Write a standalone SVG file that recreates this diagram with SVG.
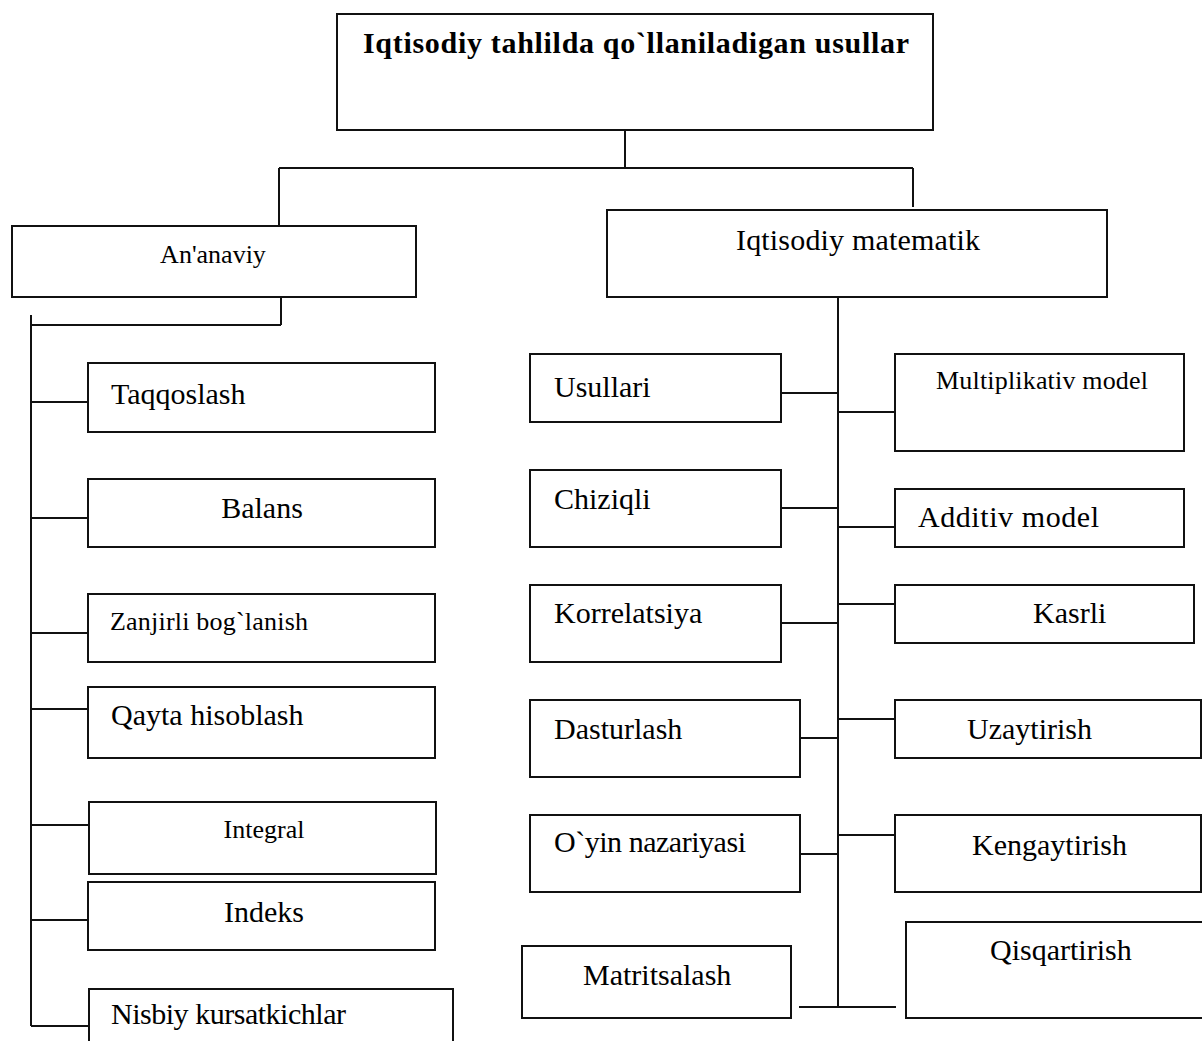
<svg xmlns="http://www.w3.org/2000/svg" width="1202" height="1041" viewBox="0 0 1202 1041">
<style>
.box{fill:#fff;stroke:#111;stroke-width:2}
.ln{fill:none;stroke:#111;stroke-width:2}
text{font-family:"Liberation Serif","Times New Roman",serif;fill:#000}
.t{font-size:30px}
.s{font-size:26px}
.c{text-anchor:middle}
.b{font-weight:bold}
</style>
<rect width="1202" height="1041" fill="#fff"/>
<g id="connectors">
<path class="ln" d="M625,130 V168 M279,168 H913 M279,168 V226 M913,168 V207"/>
<path class="ln" d="M281,287 V325 M31,325 H281 M31,315 V1026"/>
<path class="ln" d="M31,402 H88 M31,518 H88 M31,633 H88 M31,709 H88 M31,825 H89 M31,920 H88 M31,1026 H89"/>
<path class="ln" d="M838,297 V1007"/>
<path class="ln" d="M781,393 H838 M838,412 H895 M781,508 H838 M838,527 H895 M781,623 H838 M838,604 H895 M800,738 H838 M838,719 H895 M800,854 H838 M838,835 H895 M799,1007 H896"/>
</g>
<g id="root"><rect class="box" x="337" y="14" width="596" height="116"/><text class="t b" x="363" y="53" textLength="546" lengthAdjust="spacing">Iqtisodiy tahlilda qo`llaniladigan usullar</text></g>
<g id="ananaviy"><rect class="box" x="12" y="226" width="404" height="71"/><text class="s c" x="213" y="263">An'anaviy</text></g>
<g id="iqtisodiy-matematik"><rect class="box" x="607" y="210" width="500" height="87"/><text class="t" x="736" y="250" textLength="244" lengthAdjust="spacing">Iqtisodiy matematik</text></g>
<g id="taqqoslash"><rect class="box" x="88" y="363" width="347" height="69"/><text class="t" x="111" y="404">Taqqoslash</text></g>
<g id="balans"><rect class="box" x="88" y="479" width="347" height="68"/><text class="t c" x="262" y="518">Balans</text></g>
<g id="zanjirli"><rect class="box" x="88" y="594" width="347" height="68"/><text class="s" x="110" y="630" textLength="198" lengthAdjust="spacing">Zanjirli bog`lanish</text></g>
<g id="qayta"><rect class="box" x="88" y="687" width="347" height="71"/><text class="t" x="111" y="725">Qayta hisoblash</text></g>
<g id="integral"><rect class="box" x="89" y="802" width="347" height="72"/><text class="s c" x="264" y="838">Integral</text></g>
<g id="indeks"><rect class="box" x="88" y="882" width="347" height="68"/><text class="t c" x="264" y="922">Indeks</text></g>
<g id="nisbiy"><rect class="box" x="89" y="989" width="364" height="70"/><text class="t" x="111" y="1024" textLength="235" lengthAdjust="spacing">Nisbiy kursatkichlar</text></g>
<g id="usullari"><rect class="box" x="530" y="354" width="251" height="68"/><text class="t" x="554" y="397">Usullari</text></g>
<g id="multiplikativ"><rect class="box" x="895" y="354" width="289" height="97"/><text class="s" x="936" y="389" textLength="212" lengthAdjust="spacing">Multiplikativ model</text></g>
<g id="chiziqli"><rect class="box" x="530" y="470" width="251" height="77"/><text class="t" x="554" y="509">Chiziqli</text></g>
<g id="additiv"><rect class="box" x="895" y="489" width="289" height="58"/><text class="t" x="918" y="527" textLength="181" lengthAdjust="spacing">Additiv model</text></g>
<g id="korrelatsiya"><rect class="box" x="530" y="585" width="251" height="77"/><text class="t" x="554" y="623">Korrelatsiya</text></g>
<g id="kasrli"><rect class="box" x="895" y="585" width="299" height="58"/><text class="t" x="1033" y="623">Kasrli</text></g>
<g id="dasturlash"><rect class="box" x="530" y="700" width="270" height="77"/><text class="t" x="554" y="739">Dasturlash</text></g>
<g id="uzaytirish"><rect class="box" x="895" y="700" width="306" height="58"/><text class="t" x="967" y="739">Uzaytirish</text></g>
<g id="oyin"><rect class="box" x="530" y="815" width="270" height="77"/><text class="t" x="554" y="852" textLength="192" lengthAdjust="spacing">O`yin nazariyasi</text></g>
<g id="kengaytirish"><rect class="box" x="895" y="815" width="306" height="77"/><text class="t" x="972" y="855">Kengaytirish</text></g>
<g id="matritsalash"><rect class="box" x="522" y="946" width="269" height="72"/><text class="t" x="583" y="985">Matritsalash</text></g>
<g id="qisqartirish"><rect class="box" x="906" y="922" width="300" height="96"/><text class="t" x="990" y="960">Qisqartirish</text></g>
</svg>
